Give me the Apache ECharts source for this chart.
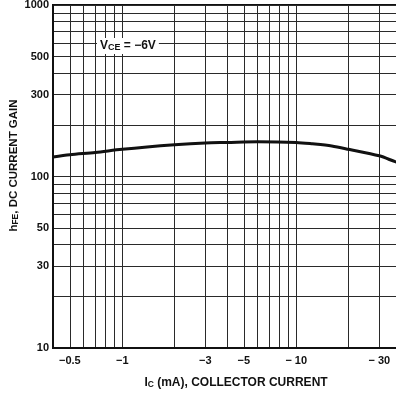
<!DOCTYPE html>
<html>
<head>
<meta charset="utf-8">
<script src="https://cdn.jsdelivr.net/npm/echarts@6/dist/echarts.min.js"></script>
<style>
html,body{margin:0;padding:0;background:#fff;}
#c{width:396px;height:396px;}
</style>
</head>
<body>
<div id="c"></div>
<script>
// Collector current magnitude (mA), plotted as negative values
const current = [0.4, 0.5, 0.7, 1, 2, 3, 4, 6, 10, 12.4, 16, 20, 30, 37, 40];
// DC current gain hFE
const gain = [130, 134, 138, 144, 153, 157, 158, 159.5, 158, 155, 150.5, 144, 132, 122, 119];

// Grid (log paper) lines
const xGridValues = [0.4, 0.5, 0.6, 0.7, 0.8, 0.9, 1, 2, 3, 4, 5, 6, 7, 8, 9, 10, 20, 30, 40];
const yGridValues = [10, 20, 30, 40, 50, 60, 70, 80, 90, 100, 200, 300, 400, 500, 600, 700, 800, 900, 1000];
// Tick labels
const xTickValues = [0.5, 1, 3, 5, 10, 30];
const yTickValues = [10, 30, 50, 100, 300, 500, 1000];

const FONT = 'Liberation Sans';
const chart = echarts.init(document.getElementById('c'), null, {renderer: 'canvas'});

chart.setOption({
  animation: false,
  backgroundColor: '#fff',
  grid: {
    left: 53, top: 5, width: 348, height: 343,
    containLabel: false, outerBoundsMode: 'none',
    show: true, borderColor: '#111', borderWidth: 2, backgroundColor: 'transparent'
  },
  xAxis: {
    type: 'log', logBase: 10, min: 0.4, max: 40,
    axisLine: {show: true, lineStyle: {color: '#111', width: 2}},
    axisTick: {show: false, customValues: xGridValues},
    axisLabel: {
      customValues: xTickValues,
      formatter: v => (v >= 10 ? '\u2212 ' : '\u2212') + v,
      margin: 7, fontFamily: FONT, fontWeight: 'bold', fontSize: 11, color: '#111'
    },
    splitLine: {show: true, lineStyle: {color: '#2a2a2a', width: 1}},
    minorTick: {show: false}, minorSplitLine: {show: false},
    name: '{b|I}{s|C}{b| (mA), COLLECTOR CURRENT}',
    nameLocation: 'middle', nameGap: 28, nameMoveOverlap: false,
    nameTextStyle: {
      padding: [0, 0, 0, 18],
      rich: {
        b: {fontFamily: FONT, fontWeight: 'bold', fontSize: 12, color: '#111'},
        s: {fontFamily: FONT, fontWeight: 'bold', fontSize: 8.5, color: '#111', padding: [4, 0, 0, 0]}
      }
    }
  },
  yAxis: {
    type: 'log', logBase: 10, min: 10, max: 1000,
    axisLine: {show: true, lineStyle: {color: '#111', width: 2}},
    axisTick: {show: false, customValues: yGridValues},
    axisLabel: {
      customValues: yTickValues,
      formatter: v => String(v),
      margin: 4, fontFamily: FONT, fontWeight: 'bold', fontSize: 11, color: '#111'
    },
    splitLine: {show: true, lineStyle: {color: '#2a2a2a', width: 1}},
    minorTick: {show: false}, minorSplitLine: {show: false},
    name: '{b|h}{s|FE}{b|, DC CURRENT GAIN}',
    nameLocation: 'middle', nameGap: 33, nameRotate: 90, nameMoveOverlap: false,
    nameTextStyle: {
      padding: [0, 0, 0, 22],
      rich: {
        b: {fontFamily: FONT, fontWeight: 'bold', fontSize: 11.5, color: '#111'},
        s: {fontFamily: FONT, fontWeight: 'bold', fontSize: 8.5, color: '#111', padding: [4, 0, 0, 0]}
      }
    }
  },
  graphic: [{
    type: 'text', left: 97, top: 38, z: 100,
    style: {
      text: '{a|V}{s|CE}{a| = \u22126V}',
      backgroundColor: '#fff',
      padding: [2, 3, 2, 3],
      rich: {
        a: {fontFamily: FONT, fontWeight: 'bold', fontSize: 12, fill: '#111'},
        s: {fontFamily: FONT, fontWeight: 'bold', fontSize: 9, fill: '#111', padding: [3, 0, 0, 0]}
      }
    }
  }],
  series: [{
    type: 'line',
    data: current.map((c, i) => [c, gain[i]]),
    symbol: 'none',
    smooth: 0.3,
    lineStyle: {color: '#111', width: 3},
    z: 10
  }]
});
</script>
</body>
</html>
